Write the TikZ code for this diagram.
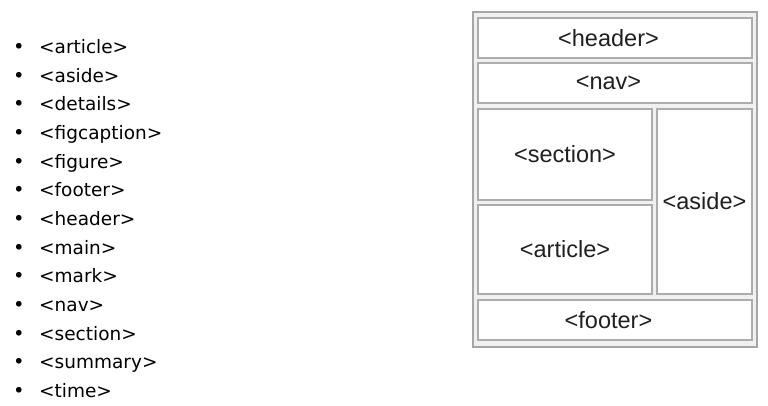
\documentclass[tikz,border=0pt]{standalone}
\usepackage{fontspec}
\setmainfont{Liberation Sans}
\newfontfamily\listfont{DejaVu Sans}
\usepackage{tikz}

\tikzset{
	frame/.style={draw=gray!70, line width=2pt, fill=gray!12, inner sep=0pt},
	part/.style={draw=gray!65, line width=1.5pt, fill=white, text=gray!25!black, inner sep=0pt,
		font=\fontsize{23.5}{28}\selectfont},
	parttext/.style={text=gray!25!black, inner sep=0pt, font=\fontsize{23.5}{28}\selectfont},
	tagitem/.style={font=\listfont\fontsize{18.5}{22}\selectfont, anchor=base west, inner sep=0pt},
	dot/.style={font=\listfont\fontsize{19.5}{22}\selectfont, anchor=base, inner sep=0pt}
}

\begin{document}
\begin{tikzpicture}[x=1pt, y=-1pt]
		\useasboundingbox (0,0) rectangle (768,405);
		
		% list of tags
		\foreach \tag [count=\i] in {article,aside,details,figcaption,figure,footer,header,main,mark,nav,section,summary,time}
		{
			\node [dot] (b\i) at (19, 53.5+28.67*\i-28.67) {•};
			\node [tagitem] (t\i) at (39, 53.5+28.67*\i-28.67) {<\tag>};
		}
		
		% page layout
		\node [frame, minimum width=284pt, minimum height=335pt] (layout) at (615, 179.5) {};
		
		\node [part, minimum width=274pt, minimum height=40pt] (header) at (615, 38) {};
		\node [parttext] (header-t) at (608.5, 38) {<header>};
		\node [part, minimum width=274pt, minimum height=40pt] (nav) at (615, 83) {};
		\node [parttext] (nav-t) at (608.5, 83) {<nav>};
		\node [part, minimum width=174pt, minimum height=91pt] (section) at (565, 154.5) {<section>};
		\node [part, minimum width=174pt, minimum height=89pt] (article) at (565, 249.5) {<article>};
		\node [part, minimum width=95pt, minimum height=185pt] (aside) at (704.5, 201.5) {<aside>};
		\node [part, minimum width=274pt, minimum height=40pt] (footer) at (615, 320) {};
		\node [parttext] (footer-t) at (608.5, 320) {<footer>};
		
	\end{tikzpicture}
\end{document}
